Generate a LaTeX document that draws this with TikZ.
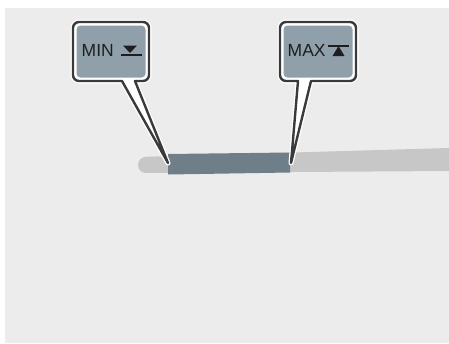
\documentclass[tikz,border=0pt]{standalone}
\usepackage{fontspec}
\setmainfont{Liberation Sans}
\definecolor{bgc}{HTML}{ECECEC}
\definecolor{barlight}{HTML}{C7C7C7}
\definecolor{bardark}{HTML}{6E7F89}
\definecolor{callfill}{HTML}{8FA0AB}
\definecolor{outl}{HTML}{3A3A3A}
\definecolor{txt}{HTML}{1E1E1E}
\begin{document}
\begin{tikzpicture}[x=1pt,y=-1pt,
  halo/.style={draw=white,line width=5pt,line join=round},
  callout/.style={draw=outl,fill=white,line width=2.4pt,line join=round},
  inner/.style={fill=callfill,rounded corners=4pt},
  lbl/.style={font=\fontsize{17.5}{19}\selectfont,text=txt,inner sep=0pt,anchor=base west},
  icon/.style={fill=txt,draw=none}]
\useasboundingbox (0,0) rectangle (449,343);
\fill[white] (0,0) rectangle (449,343);
\fill[bgc] (5,8) rectangle (449,342.5);
% bar
\fill[barlight,rounded corners=8pt] (449,148) -- (138,157) -- (138,173) [sharp corners] -- (449,171) -- cycle;
\fill[bardark] (168,154) -- (290,152.5) -- (290,172.5) -- (168,174.5) -- cycle;
\coordinate (tipmin) at (168,163);
\coordinate (tipmax) at (291,163);
% MIN callout
\foreach \s in {halo,callout}{
  \path[\s] (122,81) [rounded corners=6pt] -- (73,81) -- (73,22) -- (149,22) -- (149,81) [sharp corners] -- (135,81) -- (tipmin) -- cycle;
}
\fill[inner] (76.5,25.5) rectangle (145.5,77.5);
\node[lbl] (minlbl) at (81.5,56) {MIN};
\fill[icon] (123,45.5) -- (137,45.5) -- (130,53) -- cycle;
\fill[icon] (120.5,54.3) rectangle (141.5,55.8);
% MAX callout
\foreach \s in {halo,callout}{
  \path[\s] (298,81) [rounded corners=6pt] -- (280,81) -- (280,22) -- (356,22) -- (356,81) [sharp corners] -- (311,81) -- (tipmax) -- cycle;
}
\fill[inner] (283.5,25.5) rectangle (352.5,77.5);
\node[lbl] (maxlbl) at (287.5,56) {MAX};
\fill[icon] (328,45) rectangle (349,46.6);
\fill[icon] (338.5,46) -- (332.5,56) -- (344.5,56) -- cycle;
\end{tikzpicture}
\end{document}
